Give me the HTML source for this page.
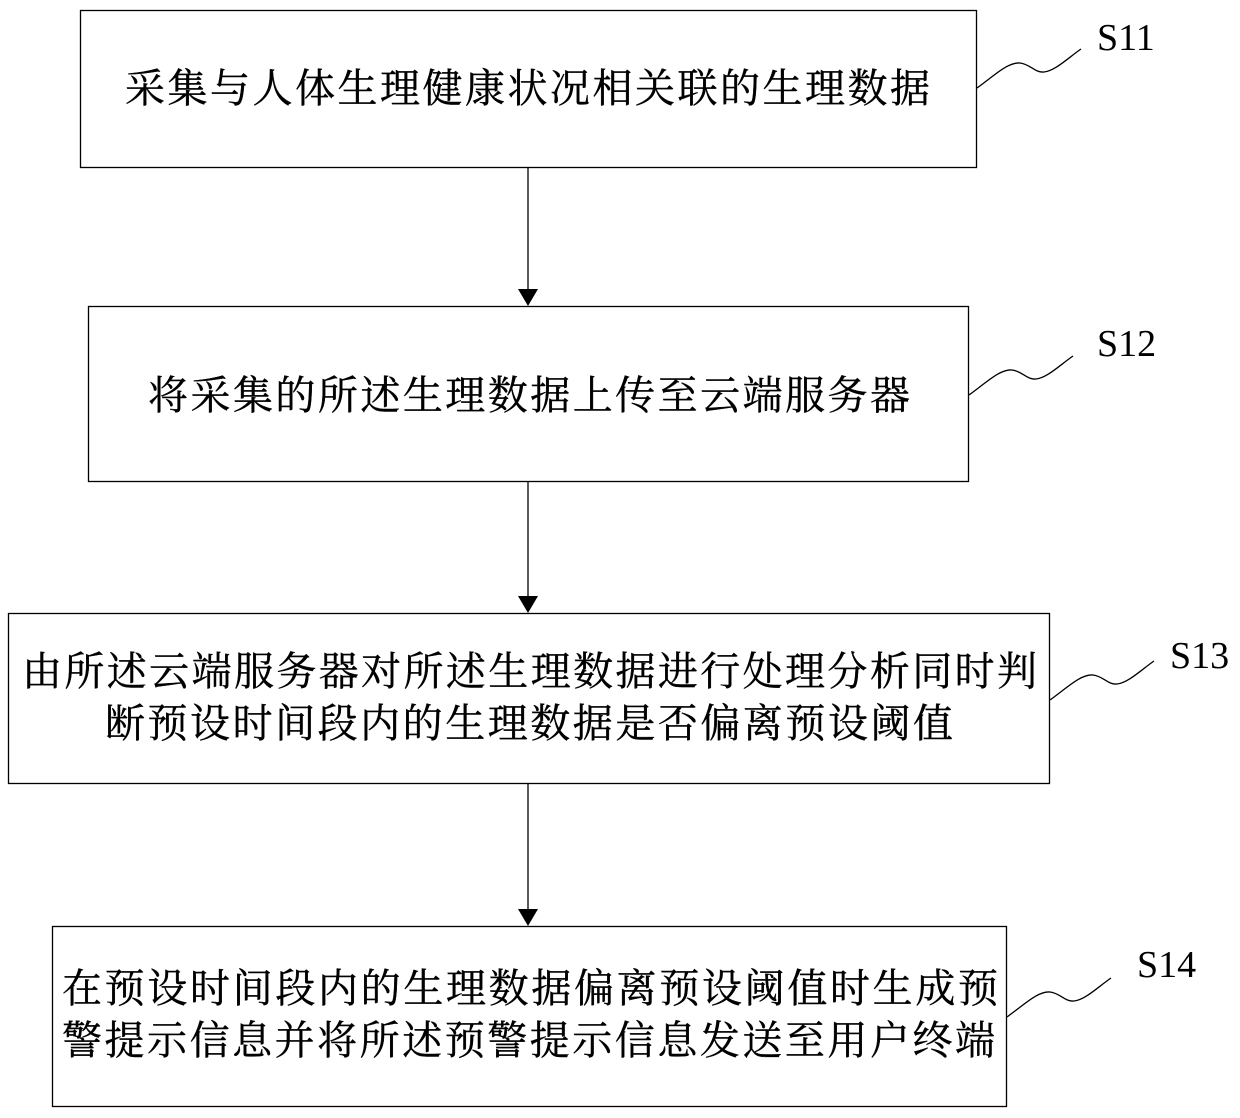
<!DOCTYPE html>
<html><head><meta charset="utf-8"><style>
body{margin:0;width:1240px;height:1118px;background:#fff;overflow:hidden;}
svg{position:absolute;left:0;top:0}
.t{font-family:"Liberation Serif","Noto Serif CJK SC",serif;font-size:38px;fill:#000}
.c{font-family:"Liberation Serif","Noto Serif CJK SC",serif;font-size:40px;fill:#000;stroke:#000;stroke-width:0.4}
</style></head><body>
<svg width="1240" height="1118" viewBox="0 0 1240 1118">
<g fill="none" stroke="#000" stroke-width="1.3">
<rect x="80.5" y="10.5" width="896" height="157"/>
<rect x="88.5" y="306.5" width="880" height="175"/>
<rect x="8.5" y="613.5" width="1041" height="170"/>
<rect x="52.5" y="926.5" width="954" height="180"/>
<line x1="528" y1="167" x2="528" y2="290"/>
<line x1="528" y1="481" x2="528" y2="597"/>
<line x1="528" y1="783" x2="528" y2="910"/>
<path d="M977 88 C995 75 1008 62 1020 63 C1030 64 1035 73 1044 72 C1055 71 1068 58 1081 49"/>
<path d="M969 395 C987 382 1000 369 1012 370 C1022 371 1027 380 1036 379 C1047 378 1060 365 1073 356"/>
<path d="M1050 700 C1068 687 1081 674 1093 675 C1103 676 1108 685 1117 684 C1128 683 1141 670 1154 661"/>
<path d="M1007 1017 C1025 1004 1038 991 1050 992 C1060 993 1065 1002 1074 1001 C1085 1000 1098 987 1111 978"/>
</g>
<g fill="#000">
<polygon points="518,289 538,289 528,306"/>
<polygon points="518,596 538,596 528,613"/>
<polygon points="518,909 538,909 528,926"/>
</g>
<text class="t" x="1097" y="50">S11</text>
<text class="t" x="1097" y="356">S12</text>
<text class="t" x="1170" y="668">S13</text>
<text class="t" x="1137" y="977">S14</text>
<text class="c" x="125" y="102" textLength="805" lengthAdjust="spacing">采集与人体生理健康状况相关联的生理数据</text>
<text class="c" x="148" y="409" textLength="762" lengthAdjust="spacing">将采集的所述生理数据上传至云端服务器</text>
<text class="c" x="22" y="685" textLength="1015" lengthAdjust="spacing">由所述云端服务器对所述生理数据进行处理分析同时判</text>
<text class="c" x="105" y="737" textLength="848" lengthAdjust="spacing">断预设时间段内的生理数据是否偏离预设阈值</text>
<text class="c" x="62" y="1002" textLength="936" lengthAdjust="spacing">在预设时间段内的生理数据偏离预设阈值时生成预</text>
<text class="c" x="62" y="1054" textLength="933" lengthAdjust="spacing">警提示信息并将所述预警提示信息发送至用户终端</text>
</svg>
</body></html>
